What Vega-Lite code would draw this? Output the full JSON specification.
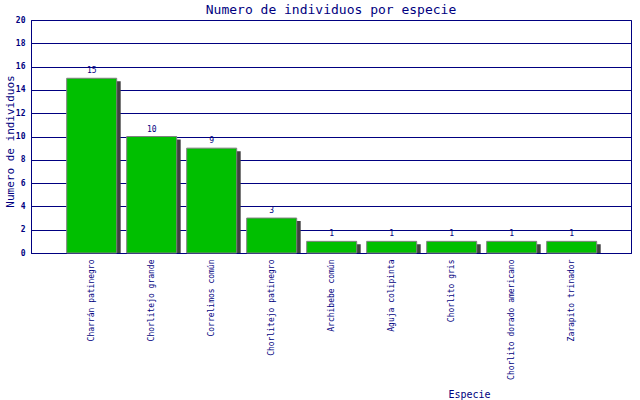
{
  "$schema": "https://vega.github.io/schema/vega-lite/v6.json",
  "autosize": {"type": "none"},
  "padding": {"left": 31, "top": 20, "right": 9, "bottom": 147},
  "width": 600,
  "height": 233,
  "background": "white",
  "title": {
    "text": "Numero de individuos por especie",
    "font": "DejaVu Sans Mono",
    "fontSize": 13,
    "fontWeight": "normal",
    "color": "#000080",
    "anchor": "middle",
    "offset": -1
  },
  "config": {
    "view": {"stroke": "#000080", "strokeWidth": 1},
    "axis": {
      "labelFont": "DejaVu Sans Mono",
      "titleFont": "DejaVu Sans Mono",
      "labelColor": "#000080",
      "titleColor": "#000080",
      "domainColor": "#000080",
      "gridColor": "#000080",
      "gridOpacity": 1,
      "ticks": false,
      "titleFontWeight": "normal"
    }
  },
  "data": {
    "values": [
      {"especie": "Charrán patinegro", "n": 15},
      {"especie": "Chorlitejo grande", "n": 10},
      {"especie": "Correlimos común", "n": 9},
      {"especie": "Chorlitejo patinegro", "n": 3},
      {"especie": "Archibebe común", "n": 1},
      {"especie": "Aguja colipinta", "n": 1},
      {"especie": "Chorlito gris", "n": 1},
      {"especie": "Chorlito dorado americano", "n": 1},
      {"especie": "Zarapito trinador", "n": 1}
    ]
  },
  "encoding": {
    "x": {
      "field": "especie",
      "type": "nominal",
      "sort": null,
      "title": "Especie",
      "scale": {"paddingInner": 0.1667, "paddingOuter": 0.5833, "align": 0.51},
      "axis": {
        "labelAngle": 270,
        "labelFontSize": 8,
        "labelPadding": 6,
        "labelLimit": 200,
        "titleFontSize": 10,
        "titleX": 438,
        "titleY": 136,
        "titleAnchor": "middle"
      }
    },
    "y": {
      "field": "n",
      "type": "quantitative",
      "title": "Numero de individuos",
      "scale": {"domain": [0, 20], "nice": false},
      "axis": {
        "values": [0, 2, 4, 6, 8, 10, 12, 14, 16, 18, 20],
        "labelFontSize": 8,
        "labelFontWeight": "bold",
        "labelPadding": 6,
        "titleFontSize": 11,
        "titleX": -21,
        "titleY": 121,
        "titleBaseline": "middle",
        "titleAnchor": "middle",
        "grid": true
      }
    }
  },
  "layer": [
    {
      "mark": {"type": "bar", "color": "#404040", "xOffset": 4, "yOffset": 3, "clip": true}
    },
    {
      "mark": {"type": "bar", "color": "#00bf00", "stroke": "#808080", "strokeWidth": 1}
    },
    {
      "mark": {
        "type": "text",
        "font": "DejaVu Sans Mono",
        "fontSize": 8,
        "color": "#000080",
        "baseline": "bottom",
        "dy": -3
      },
      "encoding": {"text": {"field": "n", "type": "quantitative"}}
    }
  ]
}
